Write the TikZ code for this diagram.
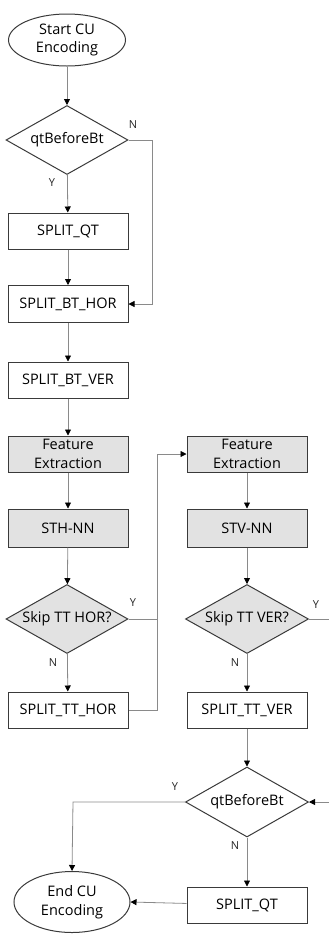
\documentclass[tikz,border=0pt]{standalone}
\usepackage{fontspec}
\setmainfont{Open Sans}
\usetikzlibrary{shapes.geometric,arrows.meta}
\definecolor{boxline}{HTML}{3A3A3A}
\definecolor{conn}{HTML}{8A8A8A}
\definecolor{grayfill}{HTML}{E2E2E2}
\newcommand{\dtext}[1]{\makebox[0pt][c]{#1}}
\tikzset{
  base/.style={draw=boxline, line width=1pt, font=\fontsize{14.5}{18.5}\selectfont, align=center, inner sep=0pt},
  procbox/.style={base, rectangle, minimum width=120pt, minimum height=36pt},
  graybox/.style={procbox, fill=grayfill},
  decision/.style={base, diamond, minimum width=122pt, minimum height=69pt},
  graydecision/.style={decision, fill=grayfill},
  terminal/.style={base, ellipse},
  conline/.style={draw=conn, line width=0.8pt},
  arr/.style={conline, -{Triangle[length=6pt,width=6pt,fill=black,color=black]}},
  lbl/.style={font=\fontsize{11}{12}\selectfont, inner sep=0pt, text=black!85}
}
\begin{document}
\begin{tikzpicture}[x=1pt,y=-1pt]
\useasboundingbox (0,0) rectangle (329,935);
\clip (0,0) rectangle (329,935);
% left column
\node[terminal, minimum width=117pt, minimum height=52pt] (start) at (67,40) {Start CU\\Encoding};
\node[decision] (q1) at (67,140) {\dtext{qtBeforeBt}};
\node[procbox] (sqt1) at (68,231) {SPLIT\_QT};
\node[procbox, minimum height=37pt] (bthor) at (68,304) {SPLIT\_BT\_HOR};
\node[procbox] (btver) at (68,380) {SPLIT\_BT\_VER};
\node[graybox] (fe1) at (68,454) {Feature\\Extraction};
\node[graybox, minimum height=38pt] (sth) at (68,528) {STH-NN};
\node[graydecision] (skh) at (67,619) {\dtext{Skip TT HOR?}};
\node[procbox] (tthor) at (68,710) {SPLIT\_TT\_HOR};
% right column
\node[graybox] (fe2) at (247,454) {Feature\\Extraction};
\node[graybox, minimum height=38pt] (stv) at (247,528) {STV-NN};
\node[graydecision, minimum width=123pt] (skv) at (247,619) {\dtext{Skip TT VER?}};
\node[procbox] (ttver) at (247,710) {SPLIT\_TT\_VER};
\node[decision, minimum width=123pt, minimum height=70pt] (q2) at (247,802) {\dtext{qtBeforeBt}};
\node[procbox] (sqt2) at (247,905) {SPLIT\_QT};
\node[terminal, minimum width=116pt, minimum height=61pt] (end) at (72,902) {End CU\\Encoding};
% helper coordinates
\coordinate (j1) at (152,140);
\coordinate (j2) at (157,619);
\coordinate (j3) at (157,454);
\coordinate (j4) at (157,710);
\coordinate (j5) at (340,619);
\coordinate (j6) at (340,802);
\coordinate (j7) at (73,802);
% connectors
\draw[arr] (start) -- (q1);
\draw[arr] (q1) -- (sqt1);
\draw[arr] (q1.east) -- (j1) |- (bthor.east);
\draw[arr] (sqt1) -- (bthor);
\draw[arr] (bthor) -- (btver);
\draw[arr] (btver) -- (fe1);
\draw[arr] (fe1) -- (sth);
\draw[arr] (sth) -- (skh);
\draw[arr] (skh) -- (tthor);
\draw[arr] (skh.east) -- (j2) -- (j3) -- (fe2.west);
\draw[conline] (tthor.east) -- (j4) -- (j2);
\draw[arr] (fe2) -- (stv);
\draw[arr] (stv) -- (skv);
\draw[arr] (skv) -- (ttver);
\draw[arr] (skv.east) -- (j5) -- (j6) -- (q2.east);
\draw[arr] (ttver) -- (q2);
\draw[arr] (q2.west) -- (j7) -- (end.north);
\draw[arr] (q2) -- (sqt2);
\draw[arr] (sqt2) -- (end.east);
% labels
\node[lbl] (n1) at (133,125) {N};
\node[lbl] (y1) at (52,183) {Y};
\node[lbl] (y2) at (133,603) {Y};
\node[lbl] (n2) at (53,663) {N};
\node[lbl] (y3) at (316,605) {Y};
\node[lbl] (n3) at (235,663) {N};
\node[lbl] (y4) at (175,787) {Y};
\node[lbl] (n4) at (235,846) {N};
\end{tikzpicture}
\end{document}
